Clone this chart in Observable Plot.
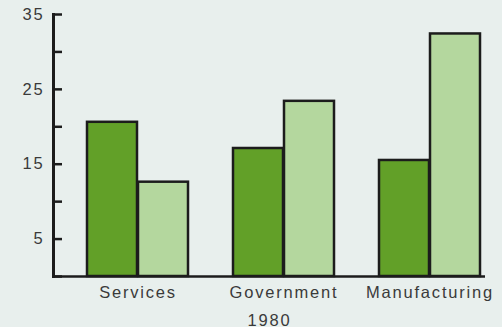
<!DOCTYPE html>
<html><head><meta charset="utf-8">
<script src="https://cdn.jsdelivr.net/npm/d3@7"></script>
<script src="https://cdn.jsdelivr.net/npm/@observablehq/plot@0.6"></script>
<style>html,body{margin:0;padding:0;background:#e8efed;overflow:hidden;}</style>
</head><body><div id="chart"></div>
<script>
const categories = ["Services", "Government", "Manufacturing"];
const darkValues = [20.6, 17.1, 15.5];
const lightValues = [12.6, 23.4, 32.4];
const yTicks = [0, 5, 10, 15, 20, 25, 30, 35];
const yTickLabels = [5, 15, 25, 35];
const yearLabel = "1980";

const darkData = categories.map((c, i) => ({category: c, value: darkValues[i]}));
const lightData = categories.map((c, i) => ({category: c, value: lightValues[i]}));

const ink = "#1c1c1c";
const plot = Plot.plot({
  width: 502, height: 327,
  marginLeft: 53, marginRight: 17, marginTop: 14, marginBottom: 51,
  style: {background: "transparent", fontFamily: "'Liberation Sans', Arial, sans-serif", fontSize: "16.5px", color: "#3a3a3a", letterSpacing: "1.8px"},
  x: {domain: categories, paddingInner: 0.306, paddingOuter: 0.1225, align: 0.89, label: null},
  y: {domain: [0, 35], label: null},
  marks: [
    Plot.barY(darkData, {x: "category", y: "value", fill: "#62a028", stroke: ink, strokeWidth: 2.5, insetRight: 51}),
    Plot.barY(lightData, {x: "category", y: "value", fill: "#b4d79e", stroke: ink, strokeWidth: 2.5, insetLeft: 51}),
    Plot.ruleY([0], {stroke: ink, strokeWidth: 2.5}),
    Plot.frame({anchor: "left", stroke: ink, strokeWidth: 3}),
    Plot.axisY(yTicks, {anchor: "right", frameAnchor: "left", tickSize: 8, fill: "none", stroke: ink, strokeWidth: 2.5, label: null}),
    Plot.axisY(yTickLabels, {anchor: "left", tickSize: 0, tickPadding: 9, label: null}),
    Plot.axisX({tickSize: 0, tickPadding: 10, label: yearLabel, labelAnchor: "center", labelArrow: "none", labelOffset: 49})
  ]
});
document.getElementById("chart").appendChild(plot);
</script>
</body></html>
